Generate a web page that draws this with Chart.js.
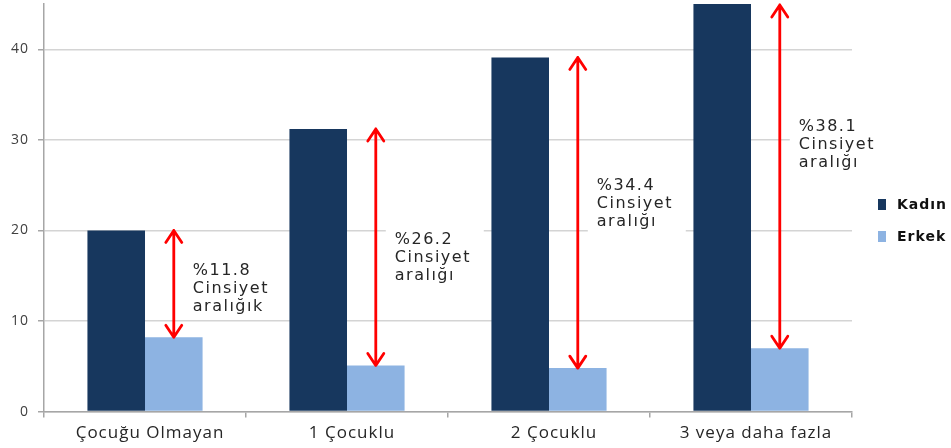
<!DOCTYPE html>
<html>
<head>
<meta charset="utf-8">
<script src="https://cdn.jsdelivr.net/npm/chart.js@4.4.1/dist/chart.umd.min.js"></script>
<style>
    body { margin: 0; background: #fff; }
    canvas { display: block; }
</style>
</head>
<body>
<canvas id="gap-chart" width="951" height="448"></canvas>
<script>
// data
const categories = ['Çocuğu Olmayan', '1 Çocuklu', '2 Çocuklu', '3 veya daha fazla'];
const seriesNames = ['Kadın', 'Erkek'];
const kadin = [20.0, 31.2, 39.1, 45.0];
const erkek = [8.2, 5.1, 4.8, 7.0];
const yTicks = [0, 10, 20, 30, 40];

// gap notes beside each arrow
const gapTitles = ['%11.8', '%26.2', '%34.4', '%38.1'];
const gapWords = ['aralığık', 'aralığı', 'aralığı', 'aralığı'];
const gapLabelAt = [13.6, 17.0, 22.9, 29.4]; // value where the middle line sits

const colors = ['#17375e', '#8db3e2'];

// the source picture is a bit stretched sideways, widen text a little
const wideText = {
    id: 'wideText',
    beforeDraw(chart) {
        chart.ctx.letterSpacing = '1px';
    }
};

// red double arrows + text
const gapArrows = {
    id: 'gapArrows',
    afterDatasetsDraw(chart) {
        const ctx = chart.ctx;
        const y = chart.scales.y;
        const area = chart.chartArea;
        const bars = chart.getDatasetMeta(1).data;
        ctx.save();
        for (let i = 0; i < bars.length; i++) {
            const x = bars[i].x;
            const top = Math.max(y.getPixelForValue(kadin[i]), area.top + 1);
            const bot = y.getPixelForValue(erkek[i]);

            ctx.strokeStyle = '#ff0000';
            ctx.lineWidth = 2.8;
            ctx.lineCap = 'round';
            ctx.lineJoin = 'round';
            ctx.beginPath();
            ctx.moveTo(x, top);
            ctx.lineTo(x, bot);
            // heads
            ctx.moveTo(x - 8, top + 12);
            ctx.lineTo(x, top);
            ctx.lineTo(x + 8, top + 12);
            ctx.moveTo(x - 8, bot - 12);
            ctx.lineTo(x, bot);
            ctx.lineTo(x + 8, bot - 12);
            ctx.stroke();

            // text block on a white patch (hides the grid behind it)
            const lines = [gapTitles[i], 'Cinsiyet', gapWords[i]];
            const mid = y.getPixelForValue(gapLabelAt[i]);
            const tx = x + 19;
            ctx.fillStyle = '#ffffff';
            ctx.fillRect(tx - 9, mid - 30, 98, 60);
            ctx.font = '16px "DejaVu Sans"';
            ctx.letterSpacing = '1.5px';
            ctx.fillStyle = '#262626';
            ctx.textBaseline = 'middle';
            ctx.textAlign = 'left';
            lines.forEach((l, k) => {
                ctx.fillText(l, tx, mid + (k - 1) * 18);
            });
        }
        ctx.restore();
    }
};

// legend on the right, square + bold name
const sideLegend = {
    id: 'sideLegend',
    afterDraw(chart, args, opts) {
        const ctx = chart.ctx;
        const x0 = chart.chartArea.right + opts.offsetX;
        ctx.save();
        ctx.font = 'bold 14px "DejaVu Sans"';
        ctx.letterSpacing = '1px';
        ctx.textBaseline = 'middle';
        chart.data.datasets.forEach((ds, i) => {
            const cy = opts.rows[i];
            ctx.fillStyle = ds.backgroundColor;
            ctx.fillRect(x0, cy - 5, 8, 11);
            ctx.fillStyle = '#111111';
            ctx.fillText(ds.label, x0 + 19, cy + 1);
        });
        ctx.restore();
    }
};

new Chart(document.getElementById('gap-chart'), {
    type: 'bar',
    data: {
        labels: categories,
        datasets: [
            { label: seriesNames[0], data: kadin, backgroundColor: colors[0] },
            { label: seriesNames[1], data: erkek, backgroundColor: colors[1] }
        ]
    },
    options: {
        responsive: false,
        animation: false,
        devicePixelRatio: 1,
        layout: { padding: { top: 4, right: 99, bottom: 0, left: 4 } },
        datasets: { bar: { barPercentage: 1, categoryPercentage: 0.57 } },
        plugins: {
            legend: { display: false },
            tooltip: { enabled: false },
            sideLegend: { offsetX: 26, rows: [204, 236] }
        },
        scales: {
            x: {
                grid: {
                    drawOnChartArea: false,
                    offset: true,
                    tickLength: 6,
                    color: '#a6a6a6',
                    lineWidth: 1.5
                },
                border: { color: '#a6a6a6', width: 1.5 },
                ticks: {
                    color: '#262626',
                    font: { family: '"Open Sans"', size: 17 },
                    padding: 5,
                    labelOffset: 5,
                    maxRotation: 0
                }
            },
            y: {
                min: 0,
                max: 45,
                afterBuildTicks(scale) {
                    scale.ticks = yTicks.map(v => ({ value: v }));
                },
                afterFit(scale) {
                    // no room needed above 40, the top label is far below
                    scale.paddingTop = 0;
                },
                grid: {
                    color: '#d4d4d4',
                    lineWidth: 1.5,
                    tickLength: 6,
                    tickColor: '#a6a6a6'
                },
                border: { color: '#a6a6a6', width: 1.5 },
                ticks: {
                    color: '#404040',
                    font: { family: '"Open Sans"', size: 14 },
                    padding: 9
                }
            }
        }
    },
    plugins: [wideText, gapArrows, sideLegend]
});
</script>
</body>
</html>
